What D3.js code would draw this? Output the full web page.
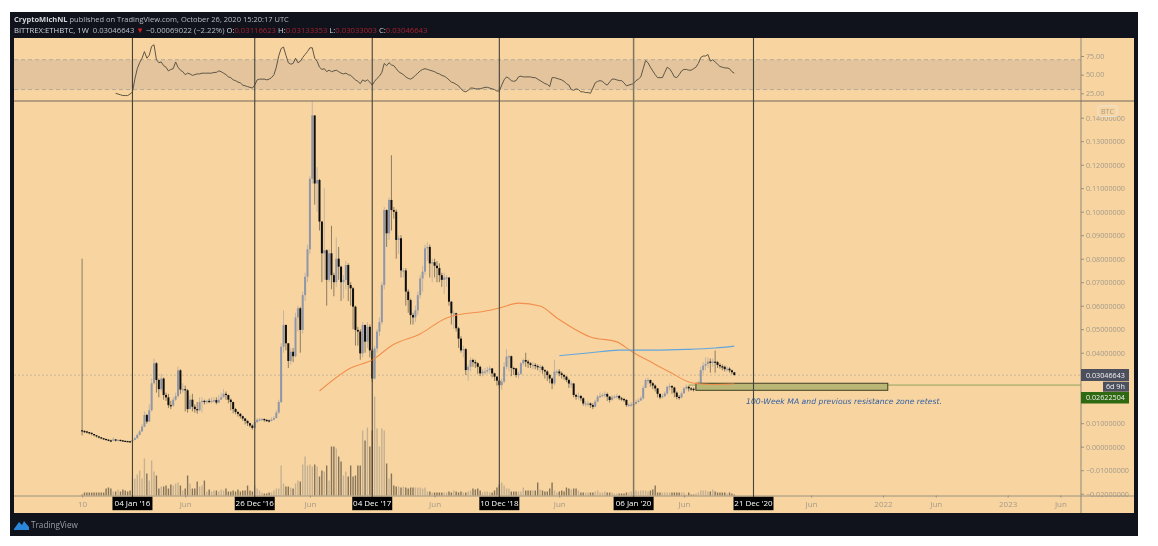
<!DOCTYPE html>
<html>
<head>
<meta charset="utf-8">
<script src="https://cdn.jsdelivr.net/npm/d3@7"></script>
<style>
html,body{margin:0;padding:0;background:#fff;overflow:hidden}
svg{display:block;filter:blur(0.45px)}
text{font-family:"Open Sans",sans-serif}
.axis path,.axis line{stroke:#9a9080}
.axis text{fill:#a39a8a;font-size:7.2px}
.xaxis text{font-size:8px}
</style>
</head>
<body>
<svg width="1158" height="546"></svg>
<script>
// weekly ETHBTC bars, first bar is 10 Aug 2015, prices in thousandths of BTC
var firstWeek = new Date(Date.UTC(2015,7,10));
var firstOpen = 7;
var closes = [
6.7,6.5,6.2,5.9,5.4,4.9,4.4,4.0,3.6,3.3,
3.0,2.7,2.6,3.1,2.8,2.9,2.7,2.5,2.4,2.3,
2.2,2.9,3.6,5.0,6.5,8.5,13.5,10.7,15.5,27,
35.5,28.4,24.5,29,22,21,17.7,17.5,20,21.5,
32.5,24.3,24.5,24,16,20,17,16,15.5,19,
19.5,19,19.5,19.2,19.5,19.8,18.8,20,21,22.5,
22,20,19,16,14.8,14,13,12,11,10,
9,8,10.5,11.4,11.6,11.8,11.4,11.2,11,11.5,
12.2,14.5,19,42.5,51.8,44,36.5,40.4,38.5,55,
58.9,49.7,64.5,72.3,84,114,141,112,113.5,95.8,
82.3,83.6,71,82.3,73,70,80,76.6,70,71,
77.3,68.8,67.4,59.6,49.7,49,39.7,51.8,44.7,51,
41,29,41.8,49,53,68.8,100.7,90.8,105,100.7,
100,88,88.7,75,75,66,62.4,56,55,58,
64.5,71.6,74.5,84.4,85,78,78.5,77,76,73,
71,72,72,61.7,56.8,56.8,50.4,46,41,41.5,
32.6,34,36.9,36,35.5,34,31.2,32,32,32.6,
33.3,31.2,29.8,28.1,26.2,27.7,34,38.3,38.5,33.5,
33.3,30.5,31,35.5,36.9,36.2,35.5,34.8,34.8,34.3,
34,34,32.6,32,30.5,29,26.9,32,32,31.2,
30.5,29.8,28.4,26.9,26.9,22,21.3,21.6,20.6,18.4,
18.4,18.4,17.7,17,19.2,21.3,21.6,22,22.4,21.3,
19.9,21,21.3,21.6,20.6,20.3,19.9,17.7,17.8,18,
18.2,19,19.6,20.6,25,28.4,28.4,27,26,24.8,
22.5,21,21.5,22.7,25.5,25.8,25.2,23,21.2,21,
22.7,24.8,25.5,24.8,24.6,24.4,25.3,27,32.6,34.5,
35.2,36.2,36,36.2,36,34.8,34.2,34,33,33.2,
32.5,31.7,30.47];
var highs = [
80,7,6.8,6.3,6,5.4,4.9,4.4,4.1,3.7,
3.4,3.1,3,4,3.3,3.2,3,2.8,2.6,2.5,
2.5,3.2,4.2,5.6,7.2,9.5,15,14,18,29,
37.5,36,29,31,29.5,23,22.5,19.5,21,23,
34,33,27,26,24.5,22,22.5,18,19,21,
21,20,20,20.5,21,21,21,22,23,24.5,
23.5,22.2,20.5,19.2,16.5,15,14.3,13.2,12.2,11.2,
10.2,9.5,11.5,12.2,12.3,12.2,12,11.8,11.6,12.5,
13,15.5,20,44,58,52,44,42,42,57,
60,59.5,66,74,86,115,147,115,119,114,
96,110,84,84,94,74,89,85,77,73,
79,78,70,68,60,51,50,53,52,53,
52,42,43,50,55,70,102,101,106,124,
102,101,90,90,76,76,67,63,57,60,
66,73,77,86,87,86,80,80,79,78,
74,74,73,72,62,58,57,51,47,43,
42,35,38,37.5,37,36,34.5,33,33.5,34,
34.5,33.5,31.5,30,28.5,29,36,41.5,39,38.8,
34,33.5,32,36,37.5,40,37,36,36,35.5,
35,35,34.5,33,32.5,31,29.5,37,33,33,
32,31,30,29,28,27,22.5,23,22,21,
19.5,19.5,18.8,18.5,20,22,23,23,23.5,23,
21.5,22,22,22.5,22,21.2,20.8,20.2,18.5,19,
19,20,20.5,21.5,26,29,29.5,28.5,27.5,26.5,
25,22.5,22.5,23.5,26,27,26.2,25.5,23.5,22,
23.5,25.5,26.5,26,25.4,25.2,26,27.8,34,36,
38,38,37.5,37.5,40.9,36.5,35.5,35,34.5,34.2,
33.8,32.8,31.33];
var lows = [
4.8,5.8,5.6,5.2,4.8,4.4,3.9,3.5,3.2,2.9,
2.7,2.3,1.9,2.4,2.2,2.4,2.3,2.2,2.1,2,
1.9,2.1,2.9,3.4,4.8,6.3,8.3,9.8,10.5,15,
26.5,23,21,23.5,20,19.5,16.5,16,17,19.5,
21,22.5,23,15,14.5,16,15,14.5,14,15,
14.5,18,18.2,18.5,18.5,18.8,18,18.5,20,21,
20,18.5,15.5,14.2,13.8,12.8,12,11,9.5,8.8,
8.2,7.2,7.6,10,10.8,11,10.6,10.5,10.3,10.8,
11.3,12,14,18.5,40,41,33.5,35,36,38,
49,40,48,62,70,82,112,103,100,92,
70,71,60,70,67,64,68,71,62,63,
67,62,60,50,43,43,37,38,40,42,
38,27.5,28.5,40,47,52,67,85,88,92,
97,80,82,72,72,60,57,52,52,53,
56,63,66,73,79,72,70,72,70,70,
68,65,68,60,52,50,49,42,40,38,
30.5,28,32,34,33.5,31,30,30,30.5,31,
31,29.5,28,26,24.8,24.2,27,33,32,30,
30.5,29.5,29,30.5,34.5,34,33.5,33.5,33,33,
32.5,31.5,31,29,28,27,24.5,26,30.5,30,
29,28.5,27.5,25,25,21,20,20,19.5,17.5,
17,17,16.5,16,16.8,19,20.5,21,21,19.5,
18.8,19.5,20.5,20.5,19.8,19.5,19,17,16.8,17,
17.2,18,18.8,19.8,20,25,26.5,25.5,24.5,23.5,
21,20.2,20.5,21,22,24,22.5,21,20.2,20,
20.5,22.5,24,23.5,23.8,23.5,24,25,27,31,
32.5,33.5,31.5,34,31.5,33.5,33.2,32.5,32,32,
31.5,30.8,30.33];
var volumes = [
1,3,3,3,3,3,3,3,3,3,
7,8,7,4,4,6,4,6,5,4,
5,17,17,21,25,17,37,22,15,35,
24,20,7,9,9,10,7,11,10,12,
13,10,5,7,20,12,7,7,14,9,
10,15,4,6,4,5,5,4,6,5,
7,4,4,5,4,6,4,5,5,10,
5,4,10,7,5,3,2,2,3,3,
5,7,7,30,12,9,9,8,7,12,
15,14,31,39,30,31,29,31,29,19,
25,24,30,15,49,49,47,39,34,20,
24,19,30,19,20,30,30,65,55,68,
49,65,99,67,49,67,65,32,17,22,
10,9,9,8,9,8,7,8,8,8,
8,8,7,8,4,4,3,3,3,3,
3,3,3,4,3,5,4,3,4,3,
3,4,5,7,6,7,5,3,4,4,
3,3,5,8,11,13,10,7,7,4,
4,4,4,4,8,5,5,5,5,5,
13,6,5,4,4,7,13,5,3,4,
5,4,8,7,6,7,7,5,3,3,
3,3,3,3,4,5,3,3,4,3,
3,3,2,2,2,2,2,3,3,4,
4,5,4,5,5,5,4,5,6,10,
3,3,3,3,3,3,3,3,3,3,
3,3,1,3,1,1,2,3,5,5,
5,4,4,6,4,3,3,3,3,2,
3,2,1];
// RSI starts on week 14
var rsiFirstWeek = 14;
var rsiValues = [
25,24,23,22,22,22,24,27,44,58,66,72,81,72,76,88,90,70,66,67,
62,60,55,57,58,67,60,56,54,50,52,51,49,50,51,51,52,52,52,52,
52,53,53,55,54,52,50,47,46,43,42,40,39,36,35,34,33,32,36,43,
44,44,44,43,44,46,50,60,75,85,87,76,66,64,65,72,66,68,73,77,
81,86,86,72,68,60,57,58,54,56,54,55,56,54,52,51,52,50,49,46,
43,41,38,43,41,43,40,36,41,45,48,53,65,62,66,63,62,58,54,52,
50,47,45,44,46,49,52,55,57,58,57,56,55,54,52,51,49,48,46,43,
40,39,37,35,31,28,27,29,32,32,31,31,31,32,33,33,32,31,30,28,
28,36,43,47,45,42,41,42,47,48,47,47,47,47,46,46,44,42,40,38,
37,34,46,46,45,44,43,41,38,36,30,29,31,30,27,27,26,26,25,32,
39,41,42,41,38,36,40,44,44,43,42,42,39,35,36,37,38,42,44,47,
58,69,66,60,55,50,46,46,46,53,60,58,53,47,46,50,55,57,57,56,
56,58,60,65,73,75,75,77,68,70,67,64,61,60,59,59,58,54,52];
// moving averages, read at the week numbers beside them
var maOrangeWeeks = [99,112,121,129.5,141,152,156,162,166,174,182,191,198,212,223,229.5,238,245,254.5,262,272];
var maOrangeValues = [23.7,33.5,36.9,43.3,48,54.8,56,56.9,57.3,59,61.1,59.9,54.8,46.7,44.6,40.3,35.6,31.8,27.1,26.5,26.7];
var maBlueWeeks = [199,212,224,238,252,264,272];
var maBlueValues = [38.7,40,41.1,41.1,41.4,42,42.8];

var priceTicks = [140,130,120,110,100,90,80,70,60,50,40,10,0,-10,-20];
var rsiTicks = [75,50,25];
var xTickDates = ["2015-08-10","2016-06-06","2017-06-05","2018-06-04","2019-06-03","2020-06-01","2021-06-07","2022-01-03","2022-06-06","2023-01-02","2023-06-05"];
var xTickLabels = ["10","Jun","Jun","Jun","Jun","Jun","Jun","2022","Jun","2023","Jun"];
var markerDates = ["2016-01-04","2016-12-26","2017-12-04","2018-12-10","2020-01-06","2020-12-21"];
var markerLabels = ["04 Jan '16","26 Dec '16","04 Dec '17","10 Dec '18","06 Jan '20","21 Dec '20"];

var lastPrice = 30.46643, zonePrice = 26.22504, zoneTop = 27, zoneBottom = 24;
var zoneStart = "2020-07-06", zoneEnd = "2022-01-17";

var svg = d3.select("svg");
var left = 14, right = 1134, top_ = 38, bottom = 513, axisX = 1081, axisY = 495.5, paneY = 101;

function weekDate(i){ return new Date(firstWeek.getTime() + i*7*864e5); }
function day(s){ return new Date(s + "T00:00:00Z"); }
function openOf(i){ return i ? closes[i-1] : firstOpen; }

var x = d3.scaleUtc().domain([firstWeek, day("2020-12-21")]).range([82.1, 753.5]);
var y = d3.scaleLinear().domain([0,130]).range([446.7, 141.2]);
var yRsi = d3.scaleLinear().domain([25,75]).range([93.3, 56]);
var yVol = d3.scaleLinear().domain([0,100]).range([axisY, axisY-100]);

// frame
svg.append("rect").attr("x",10).attr("y",12).attr("width",1128).attr("height",524).attr("fill","#10131c");
svg.append("rect").attr("x",left).attr("y",top_).attr("width",right-left).attr("height",bottom-top_).attr("fill","#f8d5a0");

// header
var head = svg.append("g").attr("fill","#b9bcc4");
head.append("text").attr("x",14).attr("y",22).attr("font-size",7.5).html('<tspan font-weight="700" fill="#d2d4da">CryptoMichNL</tspan> published on TradingView.com, October 26, 2020 15:20:17 UTC');
var line2 = head.append("text").attr("x",14).attr("y",32.5).attr("font-size",7.7);
var parts = [["BITTREX:ETHBTC, 1W","#d2d4da"],["  0.03046643 ","#b9bcc4"],["▼","#d0202a"],[" −0.00069022 (−2.22%) ","#b9bcc4"],["O:","#d2d4da"],["0.03116623","#a5212e"],[" H:","#d2d4da"],["0.03133353","#a5212e"],[" L:","#d2d4da"],["0.03033003","#a5212e"],[" C:","#d2d4da"],["0.03046643","#a5212e"]];
line2.attr("xml:space","preserve").style("white-space","pre").selectAll("tspan").data(parts).enter().append("tspan")
  .attr("fill",function(d){ return d[1]; }).text(function(d){ return d[0]; });

// RSI pane
svg.append("rect").attr("x",left).attr("y",yRsi(70)).attr("width",axisX-left).attr("height",yRsi(30)-yRsi(70)).attr("fill","#e3c49c");
[70,30].forEach(function(v){
  svg.append("line").attr("x1",left).attr("x2",axisX).attr("y1",yRsi(v)).attr("y2",yRsi(v))
    .attr("stroke","#b5ab9c").attr("stroke-dasharray","4 3");
});
svg.append("path").datum(rsiValues)
  .attr("fill","none").attr("stroke","#5e5646").attr("stroke-width",1)
  .attr("d",d3.line().x(function(d,i){ return x(weekDate(i+rsiFirstWeek)); }).y(function(d){ return yRsi(d); }));

// volume
svg.append("g").selectAll("rect").data(volumes).enter().append("rect")
  .attr("x",function(d,i){ return x(weekDate(i))-0.7; })
  .attr("y",function(d){ return yVol(d); })
  .attr("width",1.4)
  .attr("height",function(d){ return axisY-yVol(d); })
  .attr("fill",function(d,i){ return closes[i]<openOf(i) ? "#85745a" : "#c4b093"; });

// last price line
svg.append("line").attr("x1",left).attr("x2",axisX).attr("y1",y(lastPrice)).attr("y2",y(lastPrice))
  .attr("stroke","#c9b594").attr("stroke-dasharray","2 2");

// candles
var bars = svg.append("g").selectAll("g").data(closes).enter().append("g")
  .attr("fill",function(d,i){ return d>=openOf(i) ? "#8f96a8" : "#0e0e0e"; })
  .attr("stroke",function(d,i){ return d>=openOf(i) ? "#8f96a8" : "#2a2a2a"; });
bars.append("line")
  .attr("x1",function(d,i){ return x(weekDate(i)); })
  .attr("x2",function(d,i){ return x(weekDate(i)); })
  .attr("y1",function(d,i){ return y(highs[i]); })
  .attr("y2",function(d,i){ return y(lows[i]); })
  .attr("stroke-width",0.7).attr("stroke-opacity",0.75);
bars.append("rect")
  .attr("stroke","none")
  .attr("x",function(d,i){ return x(weekDate(i))-1; })
  .attr("width",2)
  .attr("y",function(d,i){ return y(Math.max(d, openOf(i))); })
  .attr("height",function(d,i){ return Math.max(1.2, Math.abs(y(d)-y(openOf(i)))); });

// resistance zone
svg.append("line").attr("x1",x(day("2020-06-15"))).attr("x2",axisX).attr("y1",y(zonePrice)).attr("y2",y(zonePrice)).attr("stroke","#8ea35c");
svg.append("rect").attr("x",x(day(zoneStart))).attr("width",x(day(zoneEnd))-x(day(zoneStart)))
  .attr("y",y(zoneTop)).attr("height",y(zoneBottom)-y(zoneTop))
  .attr("fill","#b9b676").attr("stroke","#3f4024").attr("stroke-width",1);
svg.append("text").attr("x",746).attr("y",403.5).attr("font-size",7.7).attr("font-style","italic")
  .attr("fill","#2d5da6").style("font-family","DejaVu Sans").text("100-Week MA and previous resistance zone retest.");

// moving averages
var maLine = function(weeks){
  return d3.line().curve(d3.curveMonotoneX)
    .x(function(d,i){ return x(weekDate(weeks[i])); }).y(function(d){ return y(d); });
};
svg.append("path").datum(maOrangeValues).attr("fill","none").attr("stroke","#f28f4e").attr("stroke-width",1.1).attr("d",maLine(maOrangeWeeks));
svg.append("path").datum(maBlueValues).attr("fill","none").attr("stroke","#62a5dc").attr("stroke-width",1.1).attr("d",maLine(maBlueWeeks));

// axes
var xAxis = d3.axisBottom(x).tickValues(xTickDates.map(day)).tickSize(2).tickPadding(4)
  .tickFormat(function(d,i){ return xTickLabels[i]; });
svg.append("g").attr("class","axis xaxis").attr("transform","translate(0,"+axisY+")").call(xAxis)
  .select(".domain").attr("d","M"+left+",0.5H"+right).attr("stroke","#7a7468");
var yAxis = d3.axisRight(y).tickValues(priceTicks).tickSize(3).tickPadding(2)
  .tickFormat(function(d){ return (d/1000).toFixed(8).replace("-","−"); });
svg.append("g").attr("class","axis").attr("transform","translate("+axisX+",0)").call(yAxis).select(".domain").remove();
var rsiAxis = d3.axisRight(yRsi).tickValues(rsiTicks).tickSize(3).tickPadding(2)
  .tickFormat(d3.format(".2f"));
svg.append("g").attr("class","axis").attr("transform","translate("+axisX+",0)").call(rsiAxis).select(".domain").remove();

svg.append("line").attr("x1",axisX).attr("x2",axisX).attr("y1",top_).attr("y2",bottom).attr("stroke","#8f8778");
svg.append("line").attr("x1",left).attr("x2",right).attr("y1",paneY).attr("y2",paneY).attr("stroke","#6f695d");

// marker lines with their date labels, the Jan 2020 one is drawn wider and paler in the original
markerDates.forEach(function(m,i){
  var mx = x(day(m));
  svg.append("line").attr("x1",mx).attr("x2",mx).attr("y1",top_).attr("y2",axisY+2)
    .attr("stroke",i==4 ? "#7c7464" : "#45423a").attr("stroke-width",i==4 ? 1.5 : 1.1);
  svg.append("rect").attr("x",mx-20).attr("y",496.8).attr("width",40).attr("height",13.4).attr("fill","#000");
  svg.append("text").attr("x",mx).attr("y",506.3).attr("text-anchor","middle").attr("font-size",8).attr("fill","#fff").text(markerLabels[i]);
});

// price labels on the axis
function priceBox(x0,y0,w,h,fill,label,tx){
  svg.append("rect").attr("x",x0).attr("y",y0).attr("width",w).attr("height",h).attr("fill",fill);
  svg.append("text").attr("x",tx).attr("y",y0+h/2+2.6).attr("font-size",7.2).attr("fill","#f2f2f2").text(label);
}
priceBox(axisX,369,48,12,"#4c4f5e","0.03046643",1086);
priceBox(1103,381.7,26,10,"#4c4f5e","6d 9h",1106);
priceBox(axisX,392,48,11.5,"#2f6a12","0.02622504",1086);

// BTC badge
svg.append("rect").attr("x",1098).attr("y",106).attr("width",19).attr("height",10.5).attr("rx",2)
  .attr("fill","#f8d5a0").attr("fill-opacity",0.85).attr("stroke","#e9e4da");
svg.append("text").attr("x",1107.5).attr("y",113.6).attr("text-anchor","middle").attr("font-size",7).attr("fill","#a39a8a").text("BTC");

// footer logo
svg.append("path").attr("d","M14,529 L19,522 L22,525 L24,521 L29,527 L29,530 L14,530 Z").attr("fill","#2a86d8");
svg.append("text").attr("x",31).attr("y",528).attr("font-size",8.2).attr("fill","#9a9ea8").text("TradingView");
</script>
</body>
</html>
